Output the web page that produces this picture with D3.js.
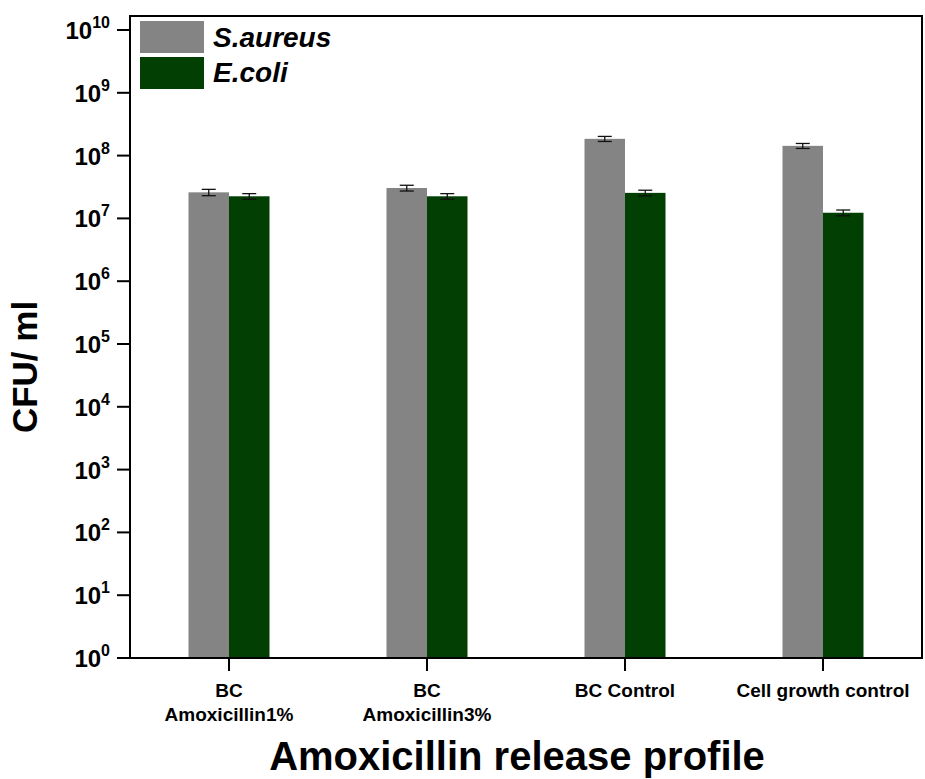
<!DOCTYPE html>
<html>
<head>
<meta charset="utf-8">
<script src="https://cdn.jsdelivr.net/npm/d3@7/dist/d3.min.js"></script>
<style>
  html, body { margin: 0; padding: 0; background: #fff; }
  svg { display: block; font-family: Arial, "Liberation Sans", sans-serif; }
</style>
</head>
<body>
<svg id="chart" width="925" height="779"></svg>
<script>
// Colony counts (CFU/ml) per sample, with standard deviation
const categories = [["BC", "Amoxicillin1%"], ["BC", "Amoxicillin3%"], ["BC Control"], ["Cell growth control"]];
const seriesNames = ["S.aureus", "E.coli"];
const seriesColors = ["#848484", "#013f02"];
const sAureus = [2.6e7, 3.05e7, 1.85e8, 1.43e8];
const sAureusErr = [3.0e6, 3.2e6, 1.7e7, 1.3e7];
const eColi = [2.25e7, 2.25e7, 2.55e7, 1.23e7];
const eColiErr = [2.3e6, 2.3e6, 2.6e6, 1.3e6];
const yTickExponents = [0, 1, 2, 3, 4, 5, 6, 7, 8, 9, 10];

const svg = d3.select("#chart");
const plotLeft = 130, plotRight = 922, plotBottom = 658, plotTop = 16;

const x = d3.scaleBand().domain(d3.range(categories.length)).range([plotLeft, plotRight]);
const x1 = d3.scaleBand().domain([0, 1]).range([0, 81]);
const y = d3.scaleLog().domain([1, 1e10]).range([plotBottom, 30]);

const series = [sAureus, eColi];
const errs = [sAureusErr, eColiErr];

// bars
series.forEach((vals, s) => {
  const g = svg.append("g");
  g.selectAll("rect").data(vals).join("rect")
    .attr("x", (d, i) => x(i) + x.bandwidth() / 2 - 40.5 + x1(s))
    .attr("y", d => y(d))
    .attr("width", x1.bandwidth())
    .attr("height", d => y(1) - y(d))
    .attr("fill", seriesColors[s]);
});

// error bars
series.forEach((vals, s) => {
  const g = svg.append("g").attr("stroke", "#111").attr("stroke-width", 1.3);
  vals.forEach((v, i) => {
    const cx = x(i) + x.bandwidth() / 2 - 40.5 + x1(s) + x1.bandwidth() / 2;
    const hi = y(v + errs[s][i]), lo = y(v - errs[s][i]);
    g.append("line").attr("x1", cx).attr("x2", cx).attr("y1", hi).attr("y2", lo);
    g.append("line").attr("x1", cx - 7).attr("x2", cx + 7).attr("y1", hi).attr("y2", hi);
    g.append("line").attr("x1", cx - 7).attr("x2", cx + 7).attr("y1", lo).attr("y2", lo);
  });
});

// frame
svg.append("path")
  .attr("d", `M${plotLeft},${plotBottom}V${plotTop}H${plotRight}V${plotBottom}Z`)
  .attr("fill", "none").attr("stroke", "#000").attr("stroke-width", 2);

// y axis ticks and labels
const yTicks = svg.append("g");
yTickExponents.forEach(e => {
  const ty = y(Math.pow(10, e));
  yTicks.append("line").attr("x1", plotLeft - 13).attr("x2", plotLeft).attr("y1", ty).attr("y2", ty)
    .attr("stroke", "#000").attr("stroke-width", 2);
  const t = yTicks.append("text").attr("x", 110).attr("y", ty + 9)
    .attr("text-anchor", "end").attr("font-weight", "bold").attr("font-size", 24).attr("fill", "#000");
  t.append("tspan").text("10");
  t.append("tspan").attr("dy", -11).attr("font-size", 16).text(e);
});

// x axis ticks and labels
const xTicks = svg.append("g");
categories.forEach((lines, i) => {
  const cx = x(i) + x.bandwidth() / 2;
  xTicks.append("line").attr("x1", cx).attr("x2", cx).attr("y1", plotBottom).attr("y2", plotBottom + 13)
    .attr("stroke", "#000").attr("stroke-width", 2);
  const t = xTicks.append("text").attr("text-anchor", "middle").attr("font-weight", "bold")
    .attr("font-size", 19).attr("fill", "#000");
  lines.forEach((ln, k) => {
    t.append("tspan").attr("x", cx).attr("y", 697 + k * 24).text(ln);
  });
});

// axis titles
svg.append("text").attr("x", 517).attr("y", 770).attr("text-anchor", "middle")
  .attr("font-weight", "bold").attr("font-size", 40).attr("fill", "#000")
  .text("Amoxicillin release profile");
svg.append("text").attr("transform", "translate(37,367) rotate(-90)").attr("text-anchor", "middle")
  .attr("font-weight", "bold").attr("font-size", 35).attr("fill", "#000")
  .text("CFU/ ml");

// legend
const legend = svg.append("g");
seriesNames.forEach((name, s) => {
  legend.append("rect").attr("x", 140).attr("y", 21 + s * 36).attr("width", 64).attr("height", 32)
    .attr("fill", seriesColors[s]);
  legend.append("text").attr("x", 213).attr("y", 47 + s * 35)
    .attr("font-weight", "bold").attr("font-style", "italic").attr("font-size", 28).attr("fill", "#000")
    .text(name);
});
</script>
</body>
</html>
